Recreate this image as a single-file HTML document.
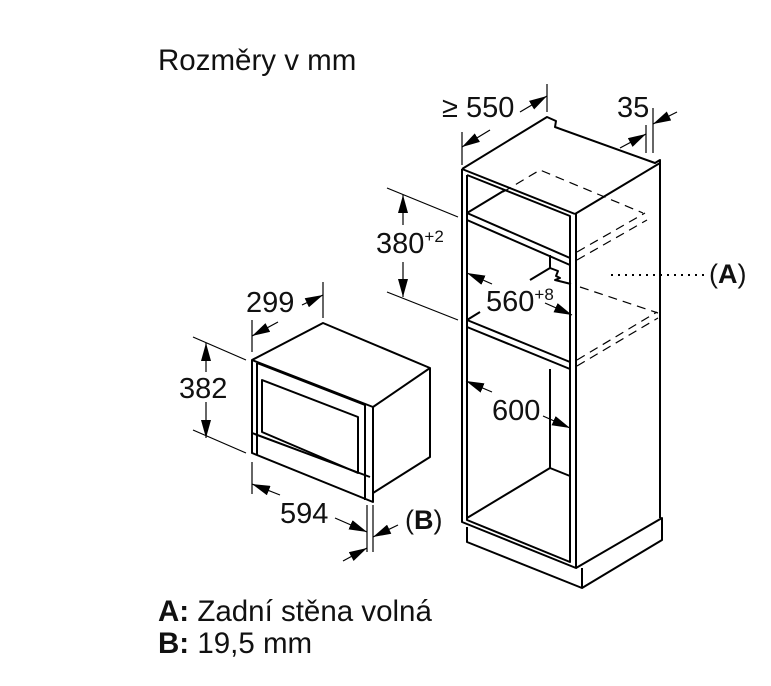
<!DOCTYPE html>
<html><head><meta charset="utf-8"><style>
html,body{margin:0;padding:0;background:#fff;}
svg{display:block;}
text{font-family:"Liberation Sans",sans-serif;fill:#111;}
</style></head><body>
<svg width="771" height="686" viewBox="0 0 771 686" xmlns="http://www.w3.org/2000/svg">
<defs>
<marker id="ar" viewBox="0 0 18 10" refX="18" refY="5" markerWidth="18" markerHeight="10" orient="auto" markerUnits="userSpaceOnUse">
<path d="M0,0 L18,5 L0,10 z" fill="#000"/></marker>
</defs>
<g stroke="#000" fill="none" stroke-width="2" stroke-linejoin="round">
<path d="M462,169 L547,117 L556,121 L555,127 L655,163 L660,160 L660,518 M575,214 L462,169 M575,214 L660,163"/>
<path d="M462,169 L462,522 L576,568 L576,214"/>
<path d="M467,175 L467,520 L570,562 L570,216 L467,175"/>
<path d="M467,527 L467,542 L582,588 L662,540 L662,518 L576,568 M582,588 L582,568"/>
<path d="M467,213 L570,258 M467,220 L570,265 M467,213 L505,190"/>
<path d="M467,320 L570,362 M467,327 L570,369 M467,320 L480,312"/>
<path d="M550,255 L550,268 L530,280 M550,268 L558,271 L556,276 L560,278 L555,280 L571,284"/>
<path d="M550,369 L550,468 L467,518 M550,468 L570,476"/>
<path d="M252,360 L323,323 L430,368 L373,407 M430,368 L430,457 L373,493"/>
<path d="M252,360 L373,407 L373,502 L252,453 Z"/>
<path d="M257,363 L365,405 L365,500 M257,363 L257,455"/>
<path d="M262,380 L358,417 L358,473 L262,432 Z"/>
<path d="M252,433 L370,477"/>
</g>
<g stroke="#000" fill="none" stroke-width="1.2" stroke-dasharray="9,6">
<path d="M503,192 L540,170 L643,213"/>
<path d="M577,252 L645,213 M577,260 L647,220"/>
<path d="M580,287 L658,313 M577,360 L657,312 M577,366 L658,318"/>
</g>
<path d="M611,275 L705,275" stroke="#000" stroke-width="2" stroke-dasharray="2,5"/>
<g stroke="#000" fill="none" stroke-width="1.2">
<path d="M462,132 L462,165 M547,84 L547,112"/>
<path d="M490,130 L462,147" marker-end="url(#ar)"/>
<path d="M520,112 L547,96" marker-end="url(#ar)"/>
<path d="M646,125 L646,153 M653,108 L653,153"/>
<path d="M620,148 L646,134" marker-end="url(#ar)"/>
<path d="M677,112 L653,124" marker-end="url(#ar)"/>
<path d="M387,188 L458,217 M387,292 L458,320"/>
<path d="M403,225 L403,195" marker-end="url(#ar)"/>
<path d="M403,262 L403,297" marker-end="url(#ar)"/>
<path d="M492,284 L467,273" marker-end="url(#ar)"/>
<path d="M545,303 L572,315" marker-end="url(#ar)"/>
<path d="M492,392 L466,381" marker-end="url(#ar)"/>
<path d="M543,416 L570,428" marker-end="url(#ar)"/>
<path d="M252,320 L252,352 M323,282 L323,318"/>
<path d="M278,322 L252,336" marker-end="url(#ar)"/>
<path d="M302,305 L323,295" marker-end="url(#ar)"/>
<path d="M193,337 L246,360 M193,430 L246,453"/>
<path d="M206,372 L206,343" marker-end="url(#ar)"/>
<path d="M206,402 L206,438" marker-end="url(#ar)"/>
<path d="M252,462 L252,494 M367,505 L367,552 M373,505 L373,552"/>
<path d="M280,495 L252,484" marker-end="url(#ar)"/>
<path d="M335,518 L367,532" marker-end="url(#ar)"/>
<path d="M398,525 L373,537" marker-end="url(#ar)"/>
<path d="M343,561 L367,548" marker-end="url(#ar)"/>
</g>
<text x="158" y="70" font-size="29.5">Rozměry v mm</text>
<text x="442" y="117" font-size="29">≥ 550</text>
<text x="617" y="117" font-size="29">35</text>
<text x="376" y="253" font-size="29">380<tspan font-size="17" dy="-11">+2</tspan></text>
<text x="486" y="311" font-size="29">560<tspan font-size="17" dy="-11">+8</tspan></text>
<text x="492" y="420" font-size="29">600</text>
<text x="709" y="283" font-size="27">(<tspan font-weight="bold">A</tspan>)</text>
<text x="246" y="312" font-size="29">299</text>
<text x="179" y="398" font-size="29">382</text>
<text x="280" y="523" font-size="29">594</text>
<text x="405" y="529" font-size="27">(<tspan font-weight="bold">B</tspan>)</text>
<text x="158" y="621" font-size="29.5"><tspan font-weight="bold">A:</tspan> Zadní stěna volná</text>
<text x="158" y="653" font-size="29.5"><tspan font-weight="bold">B:</tspan> 19,5 mm</text>
</svg>
</body></html>
